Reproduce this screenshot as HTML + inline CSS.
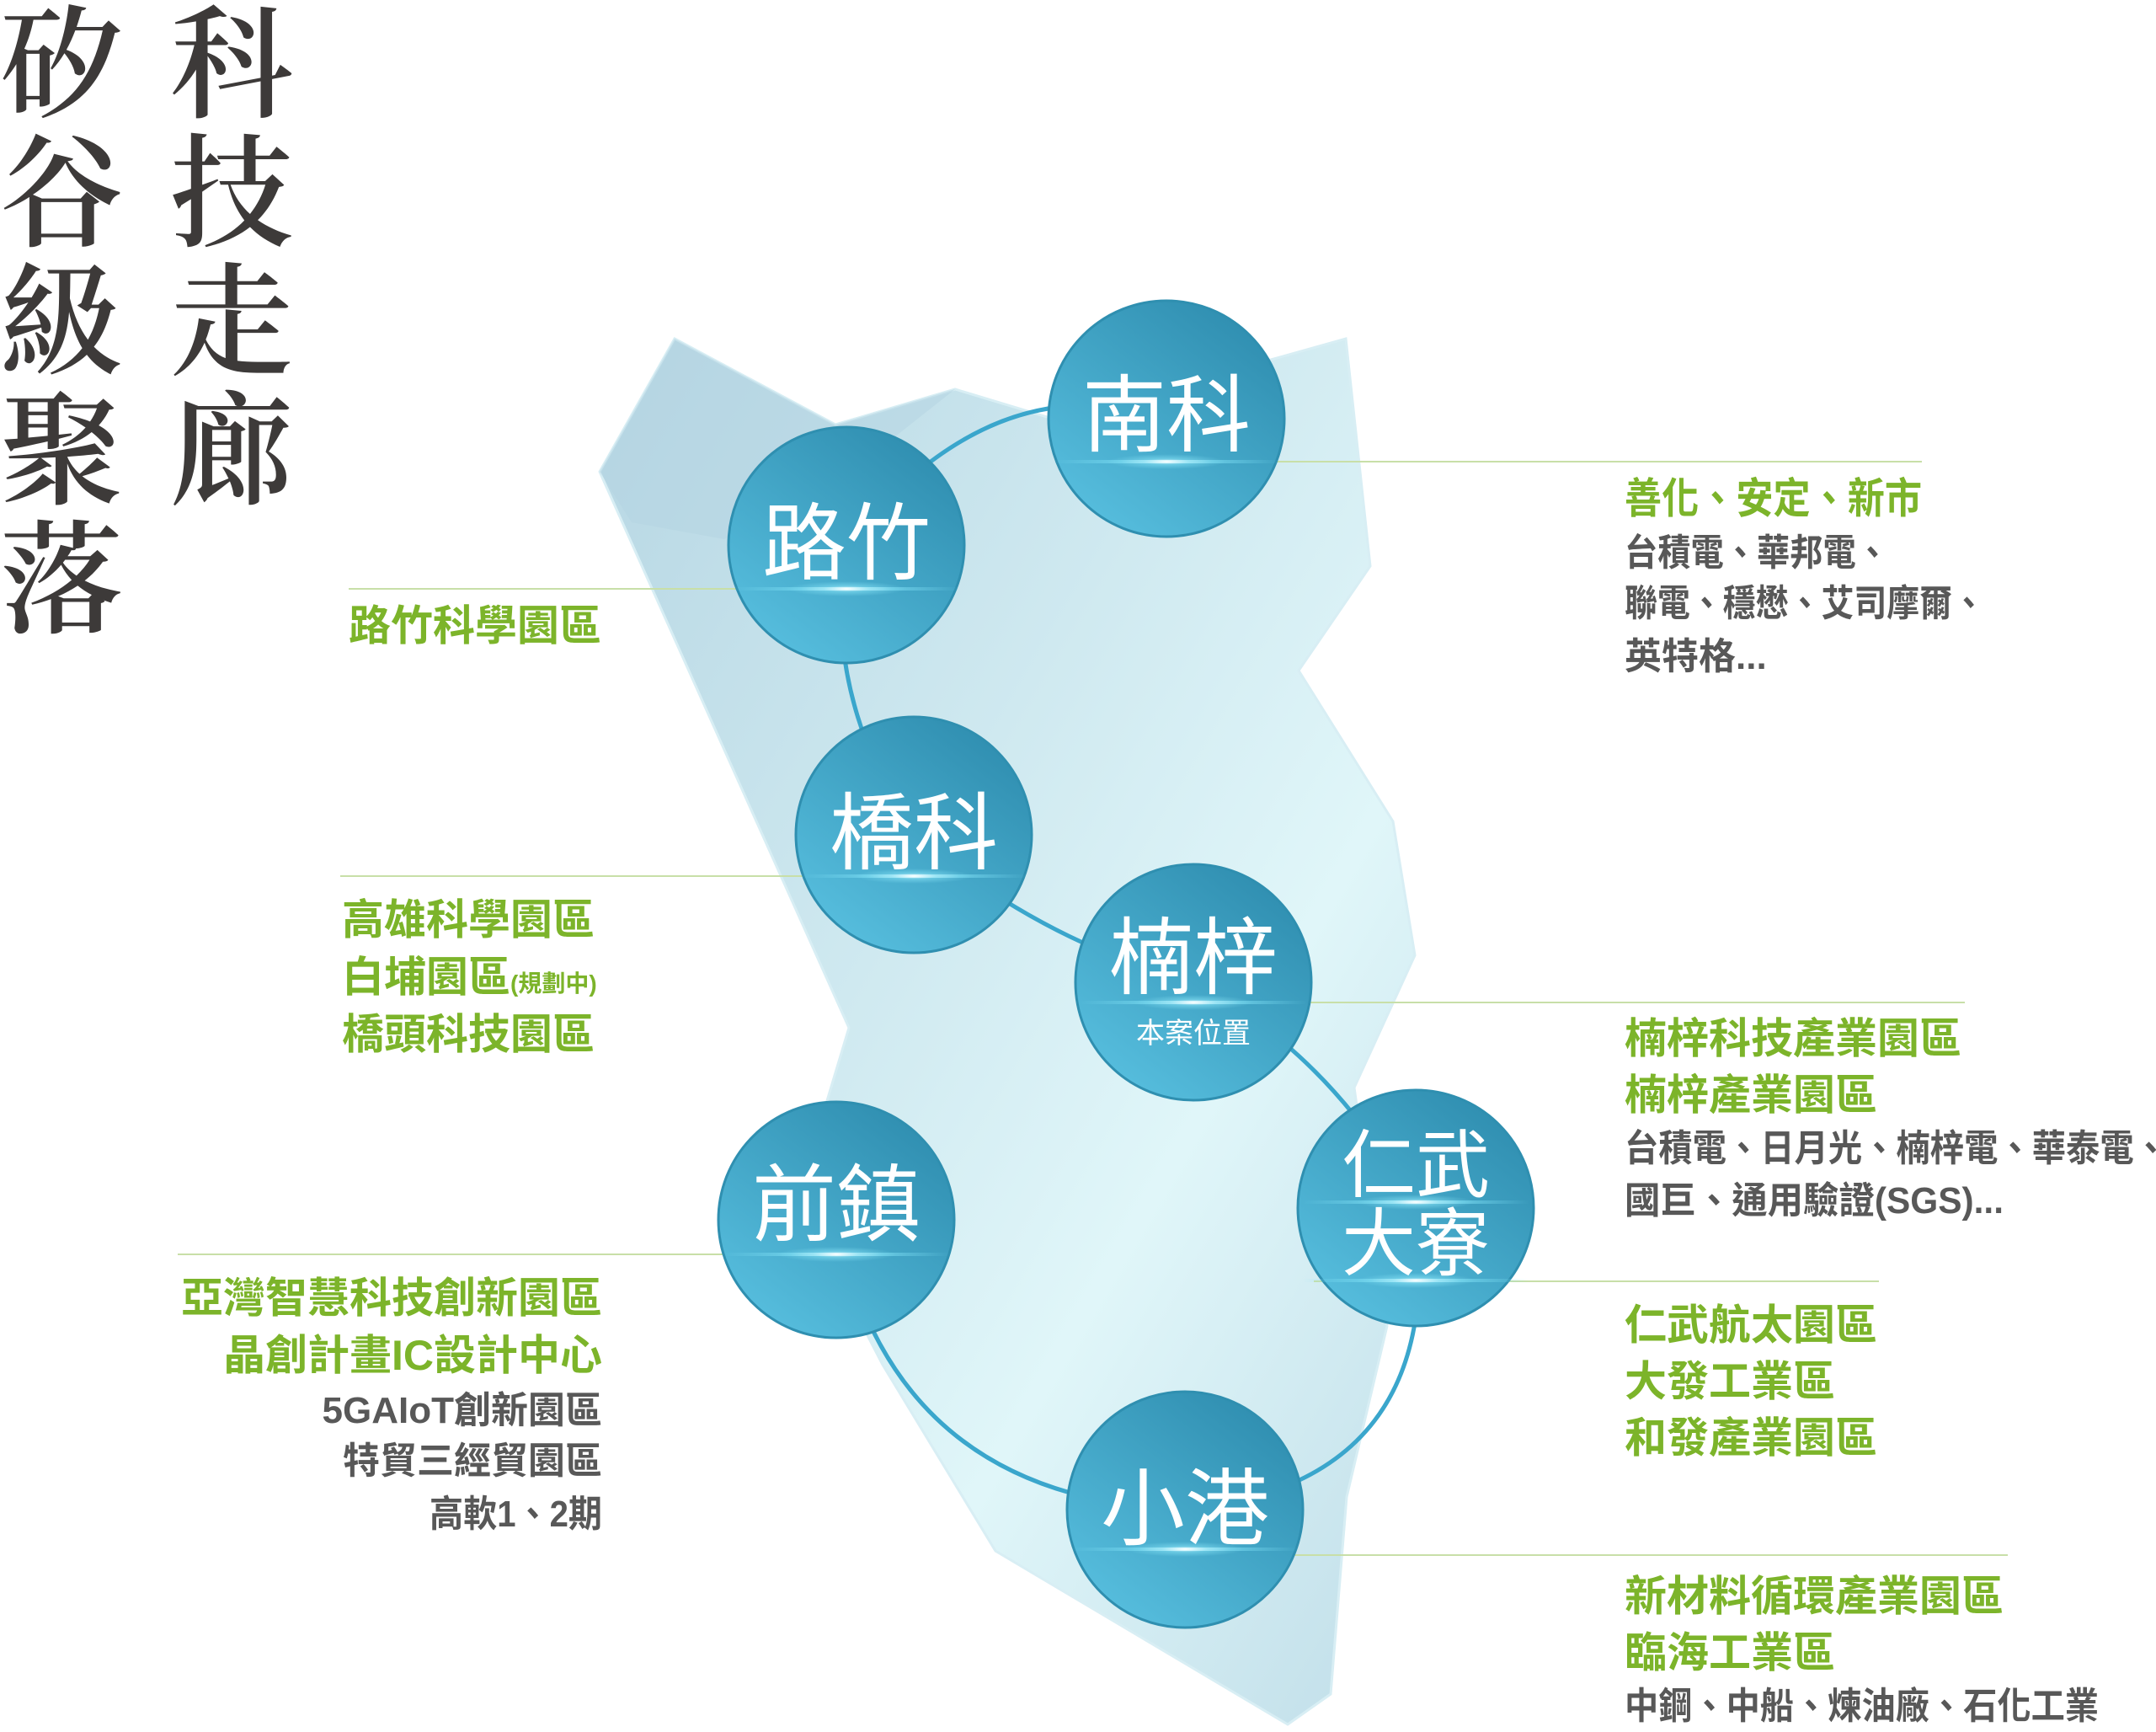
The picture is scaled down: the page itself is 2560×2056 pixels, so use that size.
<!DOCTYPE html>
<html><head><meta charset="utf-8">
<style>
html,body{margin:0;padding:0;background:#fff;}
svg{display:block;}
.g{font-family:"Liberation Sans","Noto Sans CJK TC",sans-serif;font-weight:700;fill:#7cb42a;font-size:50px;}
.k{font-family:"Liberation Sans","Noto Sans CJK TC",sans-serif;font-weight:700;fill:#585858;font-size:44px;}
.t{font-family:"Noto Serif CJK SC","Noto Serif CJK TC",serif;fill:#3d3a39;font-size:146px;font-weight:600;}
.c{font-family:"Liberation Sans","Noto Sans CJK TC",sans-serif;fill:#fff;font-size:100px;text-anchor:middle;}
</style></head>
<body>
<svg width="2560" height="2056" viewBox="0 0 2560 2056" xmlns="http://www.w3.org/2000/svg">
<defs>
<linearGradient id="map" x1="0" y1="0" x2="1" y2="1">
<stop offset="0" stop-color="#b6d6e3"/>
<stop offset="0.45" stop-color="#d3ecf2"/>
<stop offset="0.65" stop-color="#e0f6f9"/>
<stop offset="1" stop-color="#bfdde8"/>
</linearGradient>
<linearGradient id="cir" x1="0.8" y1="0.1" x2="0.2" y2="0.9">
<stop offset="0" stop-color="#3190b2"/>
<stop offset="1" stop-color="#55bcdc"/>
</linearGradient>
<linearGradient id="fl" x1="0" y1="0" x2="1" y2="0">
<stop offset="0" stop-color="#7fe0f5" stop-opacity="0"/>
<stop offset="0.3" stop-color="#7fe0f5" stop-opacity="0.6"/>
<stop offset="0.5" stop-color="#ffffff"/>
<stop offset="0.7" stop-color="#7fe0f5" stop-opacity="0.6"/>
<stop offset="1" stop-color="#7fe0f5" stop-opacity="0"/>
</linearGradient>
<radialGradient id="glow">
<stop offset="0" stop-color="#ffffff" stop-opacity="0.9"/>
<stop offset="0.4" stop-color="#8be6f8" stop-opacity="0.5"/>
<stop offset="1" stop-color="#8be6f8" stop-opacity="0"/>
</radialGradient>
</defs>

<!-- title -->
<g class="t">
<text x="0" y="128">矽</text>
<text x="0" y="281">谷</text>
<text x="0" y="434">級</text>
<text x="0" y="587">聚</text>
<text x="0" y="740">落</text>
<text x="202" y="128">科</text>
<text x="202" y="281">技</text>
<text x="202" y="434">走</text>
<text x="202" y="587">廊</text>
</g>

<!-- map -->
<polygon points="801,402 992,504 1134,462 1260,500 1509,427 1598,402 1627,672 1542,796 1654,975 1680,1134 1608,1291 1647,1574 1599,1777 1580,2011 1529,2047 1182,1841 1048,1620 955,1440 975,1330 1008,1220 712,560" fill="url(#map)" stroke="#d8eef4" stroke-width="3"/>
<polygon points="801,402 992,504 1134,462 1010,560 860,640 750,620 712,560" fill="#b4d4e2" opacity="0.5"/>

<!-- guide lines -->
<g stroke="#c8dfa8" stroke-width="2">
<line x1="1290" y1="548" x2="2282" y2="548"/>
<line x1="414" y1="699" x2="1130" y2="699"/>
<line x1="404" y1="1040" x2="1200" y2="1040"/>
<line x1="1300" y1="1190" x2="2333" y2="1190"/>
<line x1="211" y1="1489" x2="1100" y2="1489"/>
<line x1="1560" y1="1521" x2="2231" y2="1521"/>
<line x1="1330" y1="1846" x2="2384" y2="1846"/>
</g>

<!-- ring -->
<path d="M1385,497 Q1180,430 1005,647 Q975,820 1085,991 Q1240,1120 1417,1166 Q1580,1250 1681,1434 Q1720,1760 1407,1792 Q1060,1780 993,1448" fill="none" stroke="#3aa6cc" stroke-width="5"/>

<!-- circles -->
<g stroke="#2f8fb0" stroke-width="3" fill="url(#cir)">
<circle cx="1385" cy="497" r="140"/>
<circle cx="1005" cy="647" r="140"/>
<circle cx="1085" cy="991" r="140"/>
<circle cx="1417" cy="1166" r="140"/>
<circle cx="993" cy="1448" r="140"/>
<circle cx="1681" cy="1434" r="140"/>
<circle cx="1407" cy="1792" r="140"/>
</g>

<!-- flares -->
<g>
<rect x="1250" y="546" width="270" height="4" fill="url(#fl)"/><ellipse cx="1385" cy="548" rx="70" ry="9" fill="url(#glow)"/>
<rect x="870" y="697" width="270" height="4" fill="url(#fl)"/><ellipse cx="1005" cy="699" rx="70" ry="9" fill="url(#glow)"/>
<rect x="950" y="1038" width="270" height="4" fill="url(#fl)"/><ellipse cx="1085" cy="1040" rx="70" ry="9" fill="url(#glow)"/>
<rect x="1282" y="1188" width="270" height="4" fill="url(#fl)"/><ellipse cx="1417" cy="1190" rx="70" ry="9" fill="url(#glow)"/>
<rect x="858" y="1487" width="270" height="4" fill="url(#fl)"/><ellipse cx="993" cy="1489" rx="70" ry="9" fill="url(#glow)"/>
<rect x="1546" y="1425" width="270" height="4" fill="url(#fl)"/><ellipse cx="1681" cy="1427" rx="70" ry="9" fill="url(#glow)"/>
<rect x="1546" y="1518" width="270" height="4" fill="url(#fl)"/><ellipse cx="1681" cy="1520" rx="70" ry="9" fill="url(#glow)"/>
<rect x="1272" y="1837" width="270" height="4" fill="url(#fl)"/><ellipse cx="1407" cy="1839" rx="70" ry="9" fill="url(#glow)"/>
</g>

<!-- circle labels -->
<text class="c" x="1385" y="528">南科</text>
<text class="c" x="1005" y="680">路竹</text>
<text class="c" x="1085" y="1024">橋科</text>
<text class="c" x="1417" y="1172">楠梓</text>
<text class="c" x="1417" y="1238" style="font-size:34px">本案位置</text>
<text class="c" x="993" y="1465">前鎮</text>
<text class="c" x="1681" y="1414" style="font-size:88px">仁武</text>
<text class="c" x="1681" y="1507" style="font-size:88px">大寮</text>
<text class="c" x="1407" y="1826">小港</text>

<!-- left labels -->
<text class="g" x="414" y="760">路竹科學園區</text>
<text class="g" x="406" y="1109">高雄科學園區</text>
<text class="g" x="406" y="1177">白埔園區<tspan style="font-size:28px">(規劃中)</tspan></text>
<text class="g" x="406" y="1245">橋頭科技園區</text>
<g text-anchor="end">
<text class="g" x="715" y="1558">亞灣智慧科技創新園區</text>
<text class="g" x="715" y="1626">晶創計畫IC設計中心</text>
<text class="k" x="715" y="1689">5GAIoT創新園區</text>
<text class="k" x="715" y="1749">特貿三經貿園區</text>
<text class="k" x="715" y="1812" textLength="205" lengthAdjust="spacingAndGlyphs">高軟1、2期</text>
</g>

<!-- right labels -->
<text class="g" x="1929" y="609" textLength="353" lengthAdjust="spacingAndGlyphs">善化、安定、新市</text>
<text class="k" x="1929" y="671" textLength="314" lengthAdjust="spacingAndGlyphs">台積電、華邦電、</text>
<text class="k" x="1929" y="731" textLength="428" lengthAdjust="spacingAndGlyphs">聯電、穩懋、艾司摩爾、</text>
<text class="k" x="1929" y="794">英特格...</text>
<text class="g" x="1929" y="1250">楠梓科技產業園區</text>
<text class="g" x="1929" y="1317">楠梓產業園區</text>
<text class="k" x="1929" y="1378" textLength="645" lengthAdjust="spacingAndGlyphs">台積電、日月光、楠梓電、華泰電、</text>
<text class="k" x="1929" y="1440" textLength="450" lengthAdjust="spacingAndGlyphs">國巨、通用驗證(SGS)...</text>
<text class="g" x="1929" y="1590">仁武航太園區</text>
<text class="g" x="1929" y="1657">大發工業區</text>
<text class="g" x="1929" y="1724">和發產業園區</text>
<text class="g" x="1929" y="1912">新材料循環產業園區</text>
<text class="g" x="1929" y="1979">臨海工業區</text>
<text class="k" x="1929" y="2040" textLength="563" lengthAdjust="spacingAndGlyphs">中鋼、中船、煉油廠、石化工業</text>
</svg>
</body></html>
